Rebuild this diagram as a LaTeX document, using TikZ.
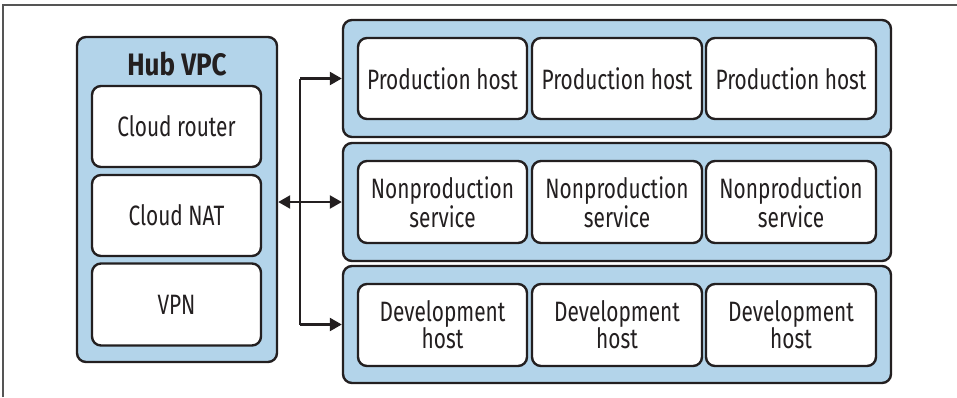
\documentclass[tikz,border=0pt]{standalone}
\usepackage{fontspec}
\setmainfont{Fira Sans}[FakeStretch=0.745]
\newfontfamily\titlefont{Fira Sans}[FakeStretch=0.84]
\usetikzlibrary{arrows.meta}
\definecolor{vpcblue}{HTML}{B3D4EA}
\definecolor{ink}{HTML}{231F20}
\definecolor{framegray}{HTML}{555555}
\tikzset{
  outerbox/.style={draw=ink, line width=2.4pt, fill=vpcblue, rounded corners=9pt, inner sep=0pt},
  innerbox/.style={draw=ink, line width=2.4pt, fill=white, rounded corners=9pt, inner sep=0pt,
    align=center, font=\fontsize{28}{27}\selectfont, text=ink},
  conn/.style={draw=ink, line width=2.4pt},
  tip/.style={-{Triangle[length=12pt,width=13pt]}},
}
\begin{document}
\begin{tikzpicture}[x=1pt,y=-1pt]
\useasboundingbox (0,0) rectangle (957,397);
\draw[framegray, line width=1.5pt] (3,397) -- (3,5) -- (957,5);
% Hub VPC
\node[outerbox, minimum width=200pt, minimum height=325pt] (hub) at (177,199.5) {};
\node[font=\titlefont\fontsize{31}{33}\selectfont\bfseries, text=ink] (hubtitle) at (177,64) {Hub VPC};
\node[innerbox, minimum width=169pt, minimum height=81pt] (router) at (176.5,126.5) {Cloud router};
\node[innerbox, minimum width=169pt, minimum height=81pt] (nat) at (176.5,215.5) {Cloud NAT};
\node[innerbox, minimum width=169pt, minimum height=82pt] (vpn) at (176.5,304.5) {VPN};
% rows
\node[outerbox, minimum width=548pt, minimum height=117pt] (row1) at (617,78.5) {};
\node[outerbox, minimum width=548pt, minimum height=118pt] (row2) at (617,202) {};
\node[outerbox, minimum width=548pt, minimum height=117pt] (row3) at (617,324.5) {};
\foreach \x/\w/\c in {442.5/169/a, 617/170/b, 791/170/c}{
  \node[innerbox, minimum width=\w pt, minimum height=81pt] (p\c) at (\x,78.5) {Production host};
  \node[innerbox, minimum width=\w pt, minimum height=82pt] (n\c) at (\x,202) {Nonproduction\\service};
  \node[innerbox, minimum width=\w pt, minimum height=82pt] (d\c) at (\x,325) {Development\\host};
}
% connectors
\coordinate (jt) at (300,78.5);
\coordinate (jb) at (300,324.5);
\draw[conn] (jt) -- (jb);
\draw[conn, tip] (jt) -- (row1.west);
\draw[conn, tip] (jb) -- (row3.west);
\draw[conn, {Triangle[length=12pt,width=13pt]}-{Triangle[length=12pt,width=13pt]}] (hub.east |- row2.west) -- (row2.west);
\end{tikzpicture}
\end{document}
